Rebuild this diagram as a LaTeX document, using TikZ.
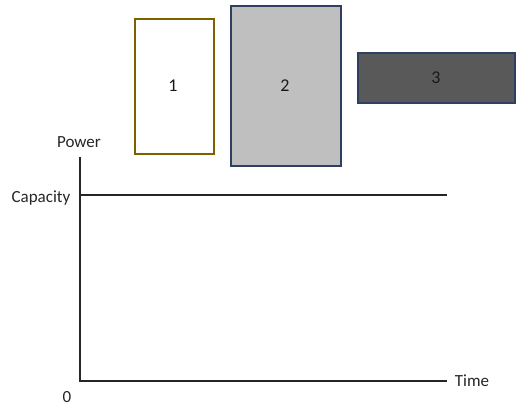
\documentclass[tikz,border=0pt]{standalone}
\usepackage{fontspec}
\setmainfont{Carlito}
\definecolor{goldbrd}{HTML}{7F6000}
\definecolor{navybrd}{HTML}{2F3F5F}
\definecolor{lgray}{HTML}{BFBFBF}
\definecolor{dgray}{HTML}{595959}
\begin{document}
\begin{tikzpicture}[x=1pt,y=-1pt,
  blk/.style={draw, line width=1.8pt, inner sep=0pt, anchor=north west},
  lbl/.style={font=\fontsize{17}{19}\selectfont, text=black!85, inner sep=0pt},
  num/.style={font=\fontsize{18}{20}\selectfont, text=black!90},
  axis/.style={line width=1.7pt, black!85}]
\useasboundingbox (0,0) rectangle (517,407);
\node[blk, draw=goldbrd, fill=white, minimum width=79pt, minimum height=135pt] (b1) at (134,18) {};
\node[blk, draw=navybrd, fill=lgray, minimum width=110pt, minimum height=160pt] (b2) at (230,5) {};
\node[blk, draw=navybrd, fill=dgray, minimum width=157pt, minimum height=50pt] (b3) at (357,52) {};
\node[num] (n1) at (173,86) {1};
\node[num] (n2) at (285,86) {2};
\node[num] (n3) at (436,78) {3};
\coordinate (top) at (80,157);
\coordinate (origin) at (80,381);
\coordinate (xend) at (447,381);
\coordinate (capl) at (80,195);
\coordinate (capr) at (447,195);
\draw[axis] (top) -- (origin) -- (xend);
\draw[axis] (capl) -- (capr);
\node[lbl] (power) at (79,142) {Power};
\node[lbl] (cap) at (41,198) {Capacity};
\node[lbl] (zero) at (67,397) {0};
\node[lbl] (time) at (472,381) {Time};
\end{tikzpicture}
\end{document}
